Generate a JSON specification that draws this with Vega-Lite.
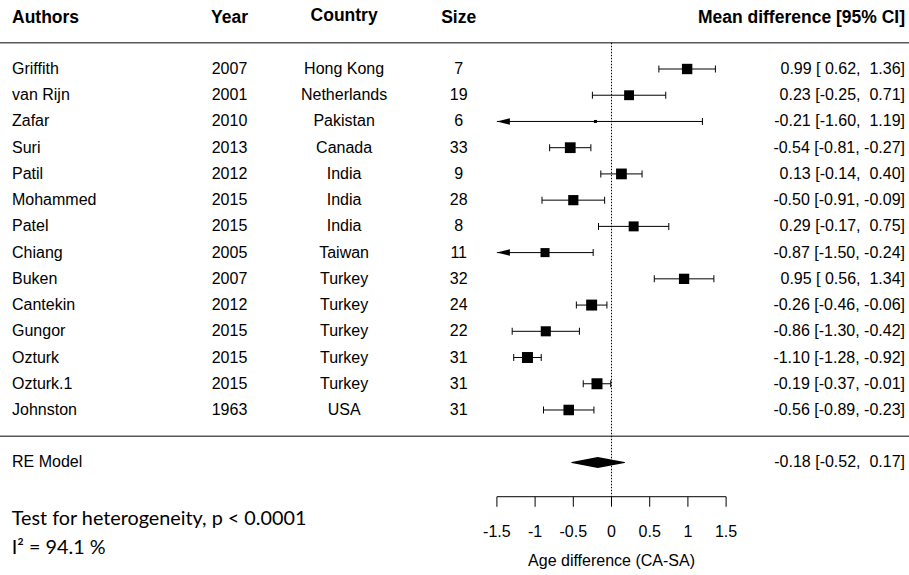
{
  "$schema": "https://vega.github.io/schema/vega-lite/v6.json",
  "width": 909,
  "height": 575,
  "padding": 0,
  "autosize": {"type": "none"},
  "background": "white",
  "config": {
    "view": {"stroke": null},
    "text": {"font": "Liberation Sans", "fontSize": 16, "color": "black"}
  },
  "datasets": {
    "studies": [
      {"author": "Griffith", "year": "2007", "country": "Hong Kong", "n": "7", "est": 0.99, "lo": 0.62, "hi": 1.36, "weight": 7.43, "ci": "0.99 [ 0.62,\u00a0 1.36]", "row": 1},
      {"author": "van Rijn", "year": "2001", "country": "Netherlands", "n": "19", "est": 0.23, "lo": -0.25, "hi": 0.71, "weight": 7.01, "ci": "0.23 [-0.25,\u00a0 0.71]", "row": 2},
      {"author": "Zafar", "year": "2010", "country": "Pakistan", "n": "6", "est": -0.21, "lo": -1.60, "hi": 1.19, "weight": 3.42, "ci": "-0.21 [-1.60,\u00a0 1.19]", "row": 3},
      {"author": "Suri", "year": "2013", "country": "Canada", "n": "33", "est": -0.54, "lo": -0.81, "hi": -0.27, "weight": 7.75, "ci": "-0.54 [-0.81, -0.27]", "row": 4},
      {"author": "Patil", "year": "2012", "country": "India", "n": "9", "est": 0.13, "lo": -0.14, "hi": 0.40, "weight": 7.75, "ci": "0.13 [-0.14,\u00a0 0.40]", "row": 5},
      {"author": "Mohammed", "year": "2015", "country": "India", "n": "28", "est": -0.50, "lo": -0.91, "hi": -0.09, "weight": 7.28, "ci": "-0.50 [-0.91, -0.09]", "row": 6},
      {"author": "Patel", "year": "2015", "country": "India", "n": "8", "est": 0.29, "lo": -0.17, "hi": 0.75, "weight": 7.08, "ci": "0.29 [-0.17,\u00a0 0.75]", "row": 7},
      {"author": "Chiang", "year": "2005", "country": "Taiwan", "n": "11", "est": -0.87, "lo": -1.504, "hi": -0.24, "weight": 6.37, "ci": "-0.87 [-1.50, -0.24]", "row": 8},
      {"author": "Buken", "year": "2007", "country": "Turkey", "n": "32", "est": 0.95, "lo": 0.56, "hi": 1.34, "weight": 7.35, "ci": "0.95 [ 0.56,\u00a0 1.34]", "row": 9},
      {"author": "Cantekin", "year": "2012", "country": "Turkey", "n": "24", "est": -0.26, "lo": -0.46, "hi": -0.06, "weight": 7.92, "ci": "-0.26 [-0.46, -0.06]", "row": 10},
      {"author": "Gungor", "year": "2015", "country": "Turkey", "n": "22", "est": -0.86, "lo": -1.30, "hi": -0.42, "weight": 7.17, "ci": "-0.86 [-1.30, -0.42]", "row": 11},
      {"author": "Ozturk", "year": "2015", "country": "Turkey", "n": "31", "est": -1.10, "lo": -1.28, "hi": -0.92, "weight": 7.96, "ci": "-1.10 [-1.28, -0.92]", "row": 12},
      {"author": "Ozturk.1", "year": "2015", "country": "Turkey", "n": "31", "est": -0.19, "lo": -0.37, "hi": -0.01, "weight": 7.96, "ci": "-0.19 [-0.37, -0.01]", "row": 13},
      {"author": "Johnston", "year": "1963", "country": "USA", "n": "31", "est": -0.56, "lo": -0.89, "hi": -0.23, "weight": 7.56, "ci": "-0.56 [-0.89, -0.23]", "row": 14}
    ],
    "header": [
      {"author": "Authors", "year": "Year", "country": "Country", "n": "Size", "ci": "Mean difference [95% CI]", "row": -1}
    ],
    "re": [
      {"author": "RE Model", "est": -0.18, "lo": -0.52, "hi": 0.17, "ci": "-0.18 [-0.52,\u00a0 0.17]", "row": 16}
    ],
    "separators": [{"row": 0}, {"row": 15}],
    "axisvals": [
      {"v": -1.5, "label": "-1.5"}, {"v": -1, "label": "-1"}, {"v": -0.5, "label": "-0.5"},
      {"v": 0, "label": "0"}, {"v": 0.5, "label": "0.5"}, {"v": 1, "label": "1"}, {"v": 1.5, "label": "1.5"}
    ],
    "footer1": [{"text": "Test for heterogeneity, p < 0.0001"}],
    "footer2": [{"text": "I\u00b2 = 94.1 %"}],
    "xtitle": [{"text": "Age difference (CA-SA)"}]
  },
  "layer": [
    {
      "data": {"name": "separators"},
      "mark": {"type": "rule", "color": "#595959", "strokeWidth": 1.6},
      "encoding": {
        "y": {"field": "row", "type": "quantitative", "scale": {"domain": [-1.6306, 20.291], "nice": false, "zero": false, "reverse": true}, "axis": null}
      }
    },
    {
      "data": {"name": "re"},
      "mark": {"type": "rule", "color": "black", "strokeWidth": 1, "strokeDash": [1.5, 1.5]},
      "encoding": {
        "x": {"datum": 0, "type": "quantitative", "scale": {"domain": [-8.004, 3.894], "nice": false, "zero": false}, "axis": null},
        "y": {"datum": 0, "type": "quantitative", "scale": {"domain": [-1.6306, 20.291], "nice": false, "zero": false, "reverse": true}, "axis": null},
        "y2": {"datum": 17.306}
      }
    },
    {
      "data": {"name": "axisvals"},
      "mark": {"type": "rule", "color": "black", "strokeWidth": 1},
      "encoding": {
        "x": {"aggregate": "min", "field": "v", "type": "quantitative", "scale": {"domain": [-8.004, 3.894], "nice": false, "zero": false}, "axis": null},
        "x2": {"aggregate": "max", "field": "v"},
        "y": {"datum": 17.306, "type": "quantitative", "scale": {"domain": [-1.6306, 20.291], "nice": false, "zero": false, "reverse": true}, "axis": null}
      }
    },
    {
      "data": {"name": "axisvals"},
      "mark": {"type": "tick", "orient": "vertical", "size": 10, "thickness": 1, "color": "black", "opacity": 1, "yOffset": 5},
      "encoding": {
        "x": {"field": "v", "type": "quantitative", "scale": {"domain": [-8.004, 3.894], "nice": false, "zero": false}, "axis": null},
        "y": {"datum": 17.306, "type": "quantitative", "scale": {"domain": [-1.6306, 20.291], "nice": false, "zero": false, "reverse": true}, "axis": null}
      }
    },
    {
      "data": {"name": "axisvals"},
      "mark": {"type": "text", "align": "center", "baseline": "alphabetic"},
      "encoding": {
        "x": {"field": "v", "type": "quantitative", "scale": {"domain": [-8.004, 3.894], "nice": false, "zero": false}, "axis": null},
        "y": {"datum": 18.84, "type": "quantitative", "scale": {"domain": [-1.6306, 20.291], "nice": false, "zero": false, "reverse": true}, "axis": null},
        "text": {"field": "label", "type": "nominal"}
      }
    },
    {
      "data": {"name": "studies"},
      "transform": [{"calculate": "max(datum.lo, -1.5)", "as": "lo_drawn"}],
      "mark": {"type": "rule", "color": "black", "strokeWidth": 1},
      "encoding": {
        "x": {"field": "lo_drawn", "type": "quantitative", "scale": {"domain": [-8.004, 3.894], "nice": false, "zero": false}, "axis": null},
        "x2": {"field": "hi"},
        "y": {"field": "row", "type": "quantitative", "scale": {"domain": [-1.6306, 20.291], "nice": false, "zero": false, "reverse": true}, "axis": null}
      }
    },
    {
      "data": {"name": "studies"},
      "mark": {"type": "tick", "orient": "vertical", "size": 7, "thickness": 1, "color": "black", "opacity": 1},
      "encoding": {
        "x": {"field": "hi", "type": "quantitative", "scale": {"domain": [-8.004, 3.894], "nice": false, "zero": false}, "axis": null},
        "y": {"field": "row", "type": "quantitative", "scale": {"domain": [-1.6306, 20.291], "nice": false, "zero": false, "reverse": true}, "axis": null}
      }
    },
    {
      "data": {"name": "studies"},
      "transform": [{"filter": "datum.lo >= -1.5"}],
      "mark": {"type": "tick", "orient": "vertical", "size": 7, "thickness": 1, "color": "black", "opacity": 1},
      "encoding": {
        "x": {"field": "lo", "type": "quantitative", "scale": {"domain": [-8.004, 3.894], "nice": false, "zero": false}, "axis": null},
        "y": {"field": "row", "type": "quantitative", "scale": {"domain": [-1.6306, 20.291], "nice": false, "zero": false, "reverse": true}, "axis": null}
      }
    },
    {
      "data": {"name": "studies"},
      "transform": [{"filter": "datum.lo < -1.5"}, {"calculate": "max(datum.lo, -1.5)", "as": "lo_drawn"}],
      "mark": {"type": "point", "shape": "M0,0L2,-0.5L2,0.5Z", "filled": true, "color": "black", "opacity": 1, "size": 169, "strokeWidth": 0},
      "encoding": {
        "x": {"field": "lo_drawn", "type": "quantitative", "scale": {"domain": [-8.004, 3.894], "nice": false, "zero": false}, "axis": null},
        "y": {"field": "row", "type": "quantitative", "scale": {"domain": [-1.6306, 20.291], "nice": false, "zero": false, "reverse": true}, "axis": null}
      }
    },
    {
      "data": {"name": "studies"},
      "mark": {"type": "point", "shape": "square", "filled": true, "color": "black", "opacity": 1, "strokeWidth": 0},
      "encoding": {
        "x": {"field": "est", "type": "quantitative", "scale": {"domain": [-8.004, 3.894], "nice": false, "zero": false}, "axis": null},
        "y": {"field": "row", "type": "quantitative", "scale": {"domain": [-1.6306, 20.291], "nice": false, "zero": false, "reverse": true}, "axis": null},
        "size": {"field": "weight", "type": "quantitative", "scale": {"type": "linear", "domain": [3.42, 7.96], "range": [9, 121], "zero": false}, "legend": null}
      }
    },
    {
      "data": {"name": "re"},
      "transform": [{"fold": ["lo", "est", "hi"], "as": ["part", "value"]}],
      "mark": {"type": "trail", "color": "black", "opacity": 1},
      "encoding": {
        "x": {"field": "value", "type": "quantitative", "scale": {"domain": [-8.004, 3.894], "nice": false, "zero": false}, "axis": null},
        "y": {"field": "row", "type": "quantitative", "scale": {"domain": [-1.6306, 20.291], "nice": false, "zero": false, "reverse": true}, "axis": null},
        "size": {"condition": {"test": "datum.part === 'est'", "value": 11}, "value": 0}
      }
    },
    {
      "data": {"name": "studies"},
      "mark": {"type": "text", "align": "left", "baseline": "middle"},
      "encoding": {
        "x": {"datum": -7.847, "type": "quantitative", "scale": {"domain": [-8.004, 3.894], "nice": false, "zero": false}, "axis": null},
        "y": {"field": "row", "type": "quantitative", "scale": {"domain": [-1.6306, 20.291], "nice": false, "zero": false, "reverse": true}, "axis": null},
        "text": {"field": "author", "type": "nominal"}
      }
    },
    {
      "data": {"name": "studies"},
      "mark": {"type": "text", "align": "center", "baseline": "middle"},
      "encoding": {
        "x": {"datum": -5, "type": "quantitative", "scale": {"domain": [-8.004, 3.894], "nice": false, "zero": false}, "axis": null},
        "y": {"field": "row", "type": "quantitative", "scale": {"domain": [-1.6306, 20.291], "nice": false, "zero": false, "reverse": true}, "axis": null},
        "text": {"field": "year", "type": "nominal"}
      }
    },
    {
      "data": {"name": "studies"},
      "mark": {"type": "text", "align": "center", "baseline": "middle"},
      "encoding": {
        "x": {"datum": -3.5, "type": "quantitative", "scale": {"domain": [-8.004, 3.894], "nice": false, "zero": false}, "axis": null},
        "y": {"field": "row", "type": "quantitative", "scale": {"domain": [-1.6306, 20.291], "nice": false, "zero": false, "reverse": true}, "axis": null},
        "text": {"field": "country", "type": "nominal"}
      }
    },
    {
      "data": {"name": "studies"},
      "mark": {"type": "text", "align": "center", "baseline": "middle"},
      "encoding": {
        "x": {"datum": -2, "type": "quantitative", "scale": {"domain": [-8.004, 3.894], "nice": false, "zero": false}, "axis": null},
        "y": {"field": "row", "type": "quantitative", "scale": {"domain": [-1.6306, 20.291], "nice": false, "zero": false, "reverse": true}, "axis": null},
        "text": {"field": "n", "type": "nominal"}
      }
    },
    {
      "data": {"name": "studies"},
      "mark": {"type": "text", "align": "right", "baseline": "middle"},
      "encoding": {
        "x": {"datum": 3.842, "type": "quantitative", "scale": {"domain": [-8.004, 3.894], "nice": false, "zero": false}, "axis": null},
        "y": {"field": "row", "type": "quantitative", "scale": {"domain": [-1.6306, 20.291], "nice": false, "zero": false, "reverse": true}, "axis": null},
        "text": {"field": "ci", "type": "nominal"}
      }
    },
    {
      "data": {"name": "header"},
      "mark": {"type": "text", "align": "left", "baseline": "middle", "fontWeight": "bold", "fontSize": 17.5, "dy": 1},
      "encoding": {
        "x": {"datum": -7.847, "type": "quantitative", "scale": {"domain": [-8.004, 3.894], "nice": false, "zero": false}, "axis": null},
        "y": {"field": "row", "type": "quantitative", "scale": {"domain": [-1.6306, 20.291], "nice": false, "zero": false, "reverse": true}, "axis": null},
        "text": {"field": "author", "type": "nominal"}
      }
    },
    {
      "data": {"name": "header"},
      "mark": {"type": "text", "align": "center", "baseline": "middle", "fontWeight": "bold", "fontSize": 17.5, "dy": 1},
      "encoding": {
        "x": {"datum": -5, "type": "quantitative", "scale": {"domain": [-8.004, 3.894], "nice": false, "zero": false}, "axis": null},
        "y": {"field": "row", "type": "quantitative", "scale": {"domain": [-1.6306, 20.291], "nice": false, "zero": false, "reverse": true}, "axis": null},
        "text": {"field": "year", "type": "nominal"}
      }
    },
    {
      "data": {"name": "header"},
      "mark": {"type": "text", "align": "center", "baseline": "middle", "fontWeight": "bold", "fontSize": 17.5, "dy": -1},
      "encoding": {
        "x": {"datum": -3.5, "type": "quantitative", "scale": {"domain": [-8.004, 3.894], "nice": false, "zero": false}, "axis": null},
        "y": {"field": "row", "type": "quantitative", "scale": {"domain": [-1.6306, 20.291], "nice": false, "zero": false, "reverse": true}, "axis": null},
        "text": {"field": "country", "type": "nominal"}
      }
    },
    {
      "data": {"name": "header"},
      "mark": {"type": "text", "align": "center", "baseline": "middle", "fontWeight": "bold", "fontSize": 17.5, "dy": 1},
      "encoding": {
        "x": {"datum": -2, "type": "quantitative", "scale": {"domain": [-8.004, 3.894], "nice": false, "zero": false}, "axis": null},
        "y": {"field": "row", "type": "quantitative", "scale": {"domain": [-1.6306, 20.291], "nice": false, "zero": false, "reverse": true}, "axis": null},
        "text": {"field": "n", "type": "nominal"}
      }
    },
    {
      "data": {"name": "header"},
      "mark": {"type": "text", "align": "right", "baseline": "middle", "fontWeight": "bold", "fontSize": 17.5, "dy": 1},
      "encoding": {
        "x": {"datum": 3.842, "type": "quantitative", "scale": {"domain": [-8.004, 3.894], "nice": false, "zero": false}, "axis": null},
        "y": {"field": "row", "type": "quantitative", "scale": {"domain": [-1.6306, 20.291], "nice": false, "zero": false, "reverse": true}, "axis": null},
        "text": {"field": "ci", "type": "nominal"}
      }
    },
    {
      "data": {"name": "re"},
      "mark": {"type": "text", "align": "left", "baseline": "middle"},
      "encoding": {
        "x": {"datum": -7.847, "type": "quantitative", "scale": {"domain": [-8.004, 3.894], "nice": false, "zero": false}, "axis": null},
        "y": {"field": "row", "type": "quantitative", "scale": {"domain": [-1.6306, 20.291], "nice": false, "zero": false, "reverse": true}, "axis": null},
        "text": {"field": "author", "type": "nominal"}
      }
    },
    {
      "data": {"name": "re"},
      "mark": {"type": "text", "align": "right", "baseline": "middle"},
      "encoding": {
        "x": {"datum": 3.842, "type": "quantitative", "scale": {"domain": [-8.004, 3.894], "nice": false, "zero": false}, "axis": null},
        "y": {"field": "row", "type": "quantitative", "scale": {"domain": [-1.6306, 20.291], "nice": false, "zero": false, "reverse": true}, "axis": null},
        "text": {"field": "ci", "type": "nominal"}
      }
    },
    {
      "data": {"name": "xtitle"},
      "mark": {"type": "text", "align": "center", "baseline": "alphabetic"},
      "encoding": {
        "x": {"datum": 0, "type": "quantitative", "scale": {"domain": [-8.004, 3.894], "nice": false, "zero": false}, "axis": null},
        "y": {"datum": 19.948, "type": "quantitative", "scale": {"domain": [-1.6306, 20.291], "nice": false, "zero": false, "reverse": true}, "axis": null},
        "text": {"field": "text", "type": "nominal"}
      }
    },
    {
      "data": {"name": "footer1"},
      "mark": {"type": "text", "align": "left", "baseline": "alphabetic", "font": "Lato", "fontSize": 19.8},
      "encoding": {
        "x": {"datum": -7.85, "type": "quantitative", "scale": {"domain": [-8.004, 3.894], "nice": false, "zero": false}, "axis": null},
        "y": {"datum": 18.38, "type": "quantitative", "scale": {"domain": [-1.6306, 20.291], "nice": false, "zero": false, "reverse": true}, "axis": null},
        "text": {"field": "text", "type": "nominal"}
      }
    },
    {
      "data": {"name": "footer2"},
      "mark": {"type": "text", "align": "left", "baseline": "alphabetic", "font": "Lato", "fontSize": 19.8},
      "encoding": {
        "x": {"datum": -7.85, "type": "quantitative", "scale": {"domain": [-8.004, 3.894], "nice": false, "zero": false}, "axis": null},
        "y": {"datum": 19.5, "type": "quantitative", "scale": {"domain": [-1.6306, 20.291], "nice": false, "zero": false, "reverse": true}, "axis": null},
        "text": {"field": "text", "type": "nominal"}
      }
    }
  ]
}
